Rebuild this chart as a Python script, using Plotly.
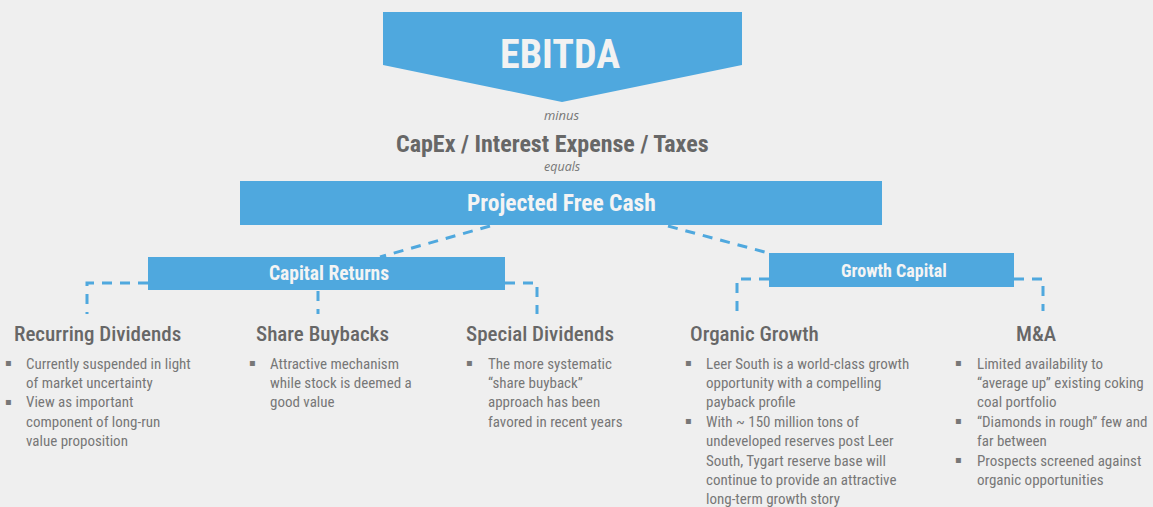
import plotly.graph_objects as go

# ---------------- data ----------------
top_label = "EBITDA"
minus_label = "minus"
deductions_label = "CapEx / Interest Expense / Taxes"
equals_label = "equals"
free_cash_label = "Projected Free Cash"
group_labels = ["Capital Returns", "Growth Capital"]

section_titles = ["Recurring Dividends", "Share Buybacks", "Special Dividends",
                  "Organic Growth", "M&A"]
section_bullets = [
    [["Currently suspended in light", "of market uncertainty"],
     ["View as important", "component of long-run", "value proposition"]],
    [["Attractive mechanism", "while stock is deemed a", "good value"]],
    [["The more systematic", "\u201cshare buyback\u201d", "approach has been",
      "favored in recent years"]],
    [["Leer South is a world-class growth", "opportunity with a compelling",
      "payback profile"],
     ["With ~ 150 million tons of", "undeveloped reserves post Leer",
      "South, Tygart reserve base will", "continue to provide an attractive",
      "long-term growth story"]],
    [["Limited availability to", "\u201caverage up\u201d existing coking",
      "coal portfolio"],
     ["\u201cDiamonds in rough\u201d few and", "far between"],
     ["Prospects screened against", "organic opportunities"]],
]

# ---------------- layout constants ----------------
W, H = 1153, 507
BG = "#efefef"
BLUE = "#4fa8de"
GRAY_H = "#676767"
GRAY_T = "#777777"
COND = "Roboto Condensed, Liberation Sans Narrow, sans-serif"

title_cx = [97, 322, 540, 754, 1036]
bullet_x = [8, 252, 469, 688, 958]
text_x = [24, 268, 486, 704, 975]
title_y = 334
line_y0 = 363.5
line_dy = 19.4

fig = go.Figure()
shapes = []
ann = []

# EBITDA pentagon
shapes.append(dict(type="path", path="M 383 12 L 742 12 L 742 65 L 562 102 L 383 65 Z",
                   fillcolor=BLUE, line=dict(width=0), layer="below"))
ann.append(dict(x=560, y=54, text=f"<b>{top_label}</b>", showarrow=False,
                font=dict(family=COND, size=40, color="#f2f2f2")))
ann.append(dict(x=562, y=115, text=f"<i>{minus_label}</i>", showarrow=False,
                font=dict(family="Open Sans, sans-serif", size=13, color=GRAY_T)))
ann.append(dict(x=552, y=144, text=f"<b>{deductions_label}</b>", showarrow=False,
                font=dict(family=COND, size=24, color=GRAY_H)))
ann.append(dict(x=562, y=166, text=f"<i>{equals_label}</i>", showarrow=False,
                font=dict(family="Open Sans, sans-serif", size=12.5, color=GRAY_T)))

# Projected Free Cash bar
shapes.append(dict(type="rect", x0=240, x1=882, y0=181, y1=225,
                   fillcolor=BLUE, line=dict(width=0), layer="below"))
ann.append(dict(x=561, y=203, text=f"<b>{free_cash_label}</b>", showarrow=False,
                font=dict(family=COND, size=23.5, color="#f4f4f4")))

# group boxes
group_boxes = [(148, 505, 257, 290), (769, 1014, 253, 287)]
group_sizes = [19.5, 18]
for (x0, x1, y0, y1), lab, fs in zip(group_boxes, group_labels, group_sizes):
    shapes.append(dict(type="rect", x0=x0, x1=x1, y0=y0, y1=y1,
                       fillcolor=BLUE, line=dict(width=0), layer="below"))
    ann.append(dict(x=(x0 + x1) / 2 + 2, y=(y0 + y1) / 2, text=f"<b>{lab}</b>",
                    showarrow=False, font=dict(family=COND, size=fs, color="#f4f4f4")))

# dashed connectors
dash_line = dict(color=BLUE, width=3, dash="10px,8px")
conns = [
    "M 490 226 L 380 257",
    "M 668 226 L 772 254",
    "M 148 283 L 87 283 L 87 314",
    "M 318 291 L 318 314",
    "M 505 283 L 537 283 L 537 314",
    "M 769 279 L 737 279 L 737 311",
    "M 1014 279 L 1043 279 L 1043 311",
]
for p in conns:
    shapes.append(dict(type="path", path=p, line=dash_line, layer="below"))

# sections
for i, title in enumerate(section_titles):
    ann.append(dict(x=title_cx[i], y=title_y, text=title, showarrow=False,
                    font=dict(family=COND, size=21, color=GRAY_H, weight=500)))
    k = 0
    for bullet in section_bullets[i]:
        ann.append(dict(x=bullet_x[i], y=line_y0 + k * line_dy - 1, text="\u25aa",
                        showarrow=False, xanchor="center",
                        font=dict(family="DejaVu Sans", size=10, color=GRAY_T)))
        for line in bullet:
            ann.append(dict(x=text_x[i], y=line_y0 + k * line_dy, text=line,
                            showarrow=False, xanchor="left",
                            font=dict(family=COND, size=15, color=GRAY_T)))
            k += 1

fig.update_layout(
    width=W, height=H, margin=dict(l=0, r=0, t=0, b=0),
    paper_bgcolor=BG, plot_bgcolor=BG,
    xaxis=dict(range=[0, W], visible=False, fixedrange=True),
    yaxis=dict(range=[H, 0], visible=False, fixedrange=True),
    shapes=shapes, annotations=ann, showlegend=False,
)
fig.add_trace(go.Scatter(x=[0, W], y=[0, H], mode="markers",
                         marker=dict(opacity=0), hoverinfo="skip"))
fig.write_html("out.html", config={"displayModeBar": False},
               post_script="document.body.style.margin='0';document.body.style.background='#efefef';")
